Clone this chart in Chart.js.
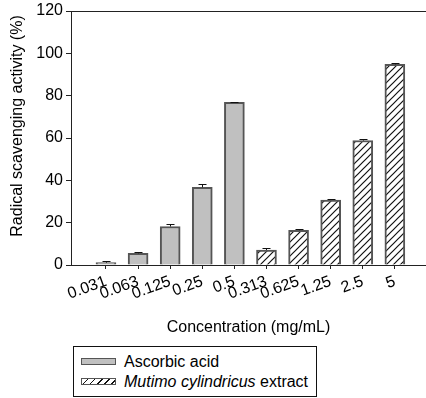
<!DOCTYPE html>
<html>
<head>
    <meta charset="utf-8">
    <title>Radical scavenging activity</title>
    <style>
        body { margin: 0; background: #fff; font-family: "Liberation Sans", Arial, sans-serif; }
        #wrap { position: relative; width: 426px; height: 398px; overflow: hidden; }
        #legend {
            position: absolute; left: 73px; top: 346px; width: 242px; height: 49px;
            border: 1px solid #111; font-size: 16px; color: #000;
        }
        .row { position: absolute; left: 7px; height: 18px; line-height: 18px; white-space: nowrap; }
        .sw { display: inline-block; width: 33px; height: 5px; border: 1.5px solid #555; vertical-align: middle; margin-right: 8px; position: relative; top: -1px; }
        .gray { background: #c0c0c0; }
        .hatch { background: repeating-linear-gradient(-45deg, #fff 0 2px, #111 2px 3px, #fff 3px 5px); }
    </style>
</head>
<body>
<div id="wrap">
    <canvas id="myChart" width="426" height="345"></canvas>
    <div id="legend">
        <div class="row" style="top:6px"><span class="sw gray"></span>Ascorbic acid</div>
        <div class="row" style="top:26px"><span class="sw hatch"></span><i>Mutimo cylindricus</i> extract</div>
    </div>
</div>
<script src="https://cdn.jsdelivr.net/npm/chart.js"></script>
<script>
    // concentrations (mg/mL), left group ascorbic acid, right group extract
    const concentrations = ['0.031', '0.063', '0.125', '0.25', '0.5', '0.313', '0.625', '1.25', '2.5', '5'];
    const ascorbicValues = [1.1, 5.5, 18.2, 36.7, 76.8];
    const ascorbicErrors = [0.9, 0.6, 1.2, 1.4, 0.4];
    const extractValues = [7.1, 16.4, 30.7, 58.8, 94.8];
    const extractErrors = [1.1, 0.8, 0.6, 0.5, 0.5];
    const yTicks = [0, 20, 40, 60, 80, 100, 120];
    const yTitle = 'Radical scavenging activity (%)';

    const fontFamily = '"Liberation Sans", Arial, sans-serif';
    const font = { family: fontFamily, size: 16 };

    const makeHatch = () => {
        const c = document.createElement('canvas');
        c.width = 7; c.height = 7;
        const g = c.getContext('2d');
        g.fillStyle = '#fff';
        g.fillRect(0, 0, 7, 7);
        g.strokeStyle = '#111';
        g.lineWidth = 1.2;
        g.beginPath();
        g.moveTo(-1, 8); g.lineTo(8, -1);
        g.moveTo(-1, 1); g.lineTo(1, -1);
        g.moveTo(6, 8); g.lineTo(8, 6);
        g.stroke();
        return g.createPattern(c, 'repeat');
    };

    const errorBars = {
        id: 'errorBars',
        afterDatasetsDraw(chart) {
            const ctx = chart.ctx;
            const y = chart.scales.y;
            ctx.save();
            ctx.strokeStyle = '#111';
            ctx.lineWidth = 1;
            chart.data.datasets.forEach((ds, i) => {
                chart.getDatasetMeta(i).data.forEach((bar, j) => {
                    const top = Math.round(y.getPixelForValue(ds.data[j].y + ds.errors[j])) + 0.5;
                    const x = Math.round(bar.x) + 0.5;
                    ctx.beginPath();
                    ctx.moveTo(x, bar.y);
                    ctx.lineTo(x, top);
                    ctx.moveTo(x - 4, top);
                    ctx.lineTo(x + 4, top);
                    ctx.stroke();
                });
            });
            ctx.restore();
        }
    };

    // frame line on top + y title (sits a bit above the axis middle, like the original)
    const frame = {
        id: 'frame',
        afterDraw(chart) {
            const { ctx, chartArea } = chart;
            ctx.save();
            ctx.strokeStyle = '#222';
            ctx.lineWidth = 1;
            ctx.beginPath();
            ctx.moveTo(chartArea.left, Math.round(chartArea.top) + 0.5);
            ctx.lineTo(chartArea.right, Math.round(chartArea.top) + 0.5);
            ctx.stroke();

            ctx.translate(18, (chartArea.top + chartArea.bottom) / 2 - 12);
            ctx.rotate(-Math.PI / 2);
            ctx.fillStyle = '#000';
            ctx.font = '16px ' + fontFamily;
            ctx.textAlign = 'center';
            ctx.textBaseline = 'middle';
            ctx.fillText(yTitle, 0, 0);
            ctx.restore();
        }
    };

    const data = {
        datasets: [{
            label: 'Ascorbic acid',
            data: ascorbicValues.map((v, i) => ({ x: i + 1, y: v })),
            errors: ascorbicErrors,
            backgroundColor: '#c0c0c0',
            borderColor: '#555',
            borderWidth: 2,
            barThickness: 20,
            grouped: false
        }, {
            label: 'Mutimo cylindricus extract',
            data: extractValues.map((v, i) => ({ x: ascorbicValues.length + i + 1, y: v })),
            errors: extractErrors,
            backgroundColor: makeHatch(),
            borderColor: '#555',
            borderWidth: 2,
            barThickness: 20,
            grouped: false
        }]
    };

    const config = {
        type: 'bar',
        data: data,
        plugins: [errorBars, frame],
        options: {
            responsive: false,
            animation: false,
            layout: { padding: { top: 11, left: 0, right: 0, bottom: 0 } },
            plugins: { legend: { display: false }, tooltip: { enabled: false } },
            scales: {
                x: {
                    type: 'linear',
                    offset: false,
                    min: -0.09,
                    max: 10.97,
                    afterBuildTicks: (s) => { s.ticks = concentrations.map((_, i) => ({ value: i + 1 })); },
                    afterFit: (s) => { s.height = 80; s.paddingLeft = 0; s.paddingRight = 0; },
                    grid: { offset: false, drawOnChartArea: false, tickLength: 4, color: '#222' },
                    border: { display: true, color: '#222', width: 1 },
                    ticks: {
                        autoSkip: false,
                        minRotation: 20,
                        maxRotation: 20,
                        padding: 3,
                        color: '#000',
                        font: font,
                        callback: (v) => concentrations[v - 1]
                    },
                    title: { display: true, text: 'Concentration (mg/mL)', color: '#000', font: font, padding: { top: 0, bottom: 8 } }
                },
                y: {
                    min: 0,
                    max: 120,
                    afterBuildTicks: (s) => { s.ticks = yTicks.map(v => ({ value: v })); },
                    afterFit: (s) => { s.width = 71; s.paddingTop = 0; s.paddingBottom = 0; },
                    grid: { drawOnChartArea: false, tickLength: 5, color: '#222' },
                    border: { display: true, color: '#222', width: 1 },
                    ticks: { padding: 3, color: '#000', font: font }
                }
            }
        }
    };

    new Chart(document.getElementById('myChart'), config);
</script>
</body>
</html>
